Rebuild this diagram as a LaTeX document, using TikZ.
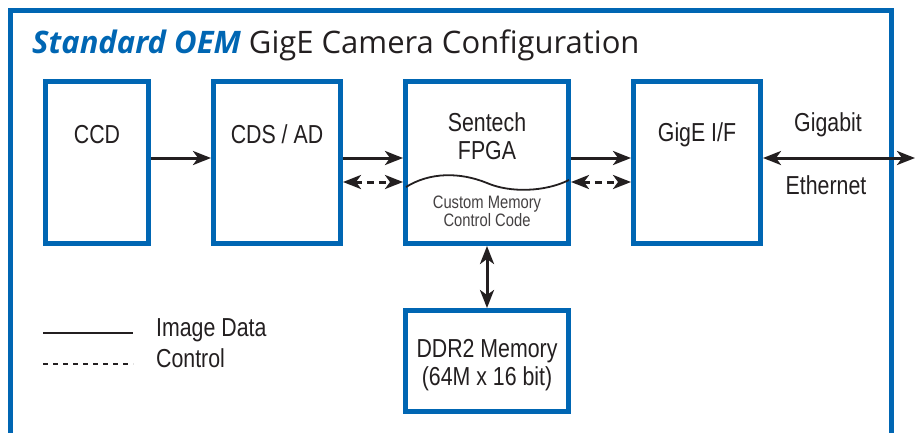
\documentclass[tikz,border=0pt]{standalone}
\usepackage{fontspec}
\setmainfont{Liberation Sans}[FakeStretch=0.82]
\newfontfamily\titlefont{Open Sans}
\usetikzlibrary{arrows.meta,positioning}

\definecolor{camblue}{RGB}{0,102,179}
\definecolor{inkgray}{RGB}{35,31,32}

\tikzset{
	block/.style={draw=camblue, line width=5pt, fill=white, inner sep=0pt},
	lbl/.style={text=inkgray, font=\fontsize{26}{28}\selectfont, align=center, inner sep=0pt},
	smalllbl/.style={text=inkgray!85, font=\fontsize{18}{18}\selectfont, align=center, inner sep=0pt},
	data/.style={line width=3pt, draw=inkgray},
	ctrl/.style={line width=3pt, draw=inkgray, dash pattern=on 7pt off 5pt},
}

\begin{document}
\begin{tikzpicture}[x=1pt, y=-1pt, >={Stealth[length=18pt,width=14pt,inset=5pt]}, node distance=60pt]
	\useasboundingbox (0,0) rectangle (915,432);
	
	% Frame and title
	\draw [camblue, line width=5pt] (10,10) rectangle (891,460);
	\node [anchor=base west, inner sep=0pt, text=inkgray, font=\titlefont\fontsize{31}{31}\selectfont] (title) at (32,53)
	{\textcolor{camblue}{\bfseries\itshape Standard OEM} GigE Camera Configuration};
	
	% Nodes {ccd, cds, fpga, gige, ddr}
	\node [block, minimum width=103pt, minimum height=162pt] 	(ccd) 	at (97,162.5) 		{};
	\node [block, minimum width=127pt, minimum height=162pt] 	(cds) 	[right=of ccd] 		{};
	\node [block, minimum width=163pt, minimum height=162pt] 	(fpga) 	[right=of cds] 		{};
	\node [block, minimum width=127pt, minimum height=162pt] 	(gige) 	[right=of fpga] 	{};
	\node [block, minimum width=163pt, minimum height=101pt] 	(ddr) 	[below=62pt of fpga] {};
	\coordinate (ethout) at (915,158);
	
	% Labels
	\node [lbl] (ccdtxt) 	at ([yshift=-55.5pt]ccd.north) 	{CCD};
	\node [lbl] (cdstxt) 	at ([yshift=-55.5pt]cds.north) 	{CDS / AD};
	\node [lbl] (fpgatxt) 	at ([yshift=-57pt]fpga.north) 	{Sentech\\FPGA};
	\node [smalllbl] (codetxt) at ([yshift=-132.5pt]fpga.north) {Custom Memory\\Control Code};
	\node [lbl] (gigetxt) 	at ([yshift=-55.5pt]gige.north) 	{GigE I/F};
	\node [lbl] (ddrtxt) 	at ([yshift=-57pt]ddr.north) 	{DDR2 Memory\\(64M x 16 bit)};
	\node [lbl] (gbtxt) 	at (828,125) 	{Gigabit};
	\node [lbl] (ethtxt) 	at (826,185) 	{Ethernet};
	
	% Memory code divider
	\draw [inkgray, line width=1.8pt] (406,187) .. controls (430,172) and (460,172) .. (487,183)
		.. controls (510,193) and (545,192) .. (569,180);
	
	% Paths
	\draw [data, ->] 	([yshift=4.5pt]ccd.east) 	-- 	([yshift=4.5pt]cds.west);
	\draw [data, ->] 	([yshift=4.5pt]cds.east) 	-- 	([yshift=4.5pt]fpga.west);
	\draw [ctrl, <->] 	([yshift=-19.5pt]cds.east) 	-- 	([yshift=-19.5pt]fpga.west);
	\draw [data, ->] 	([yshift=4.5pt]fpga.east) 	-- 	([yshift=4.5pt]gige.west);
	\draw [ctrl, <->] 	([yshift=-19.5pt]fpga.east) 	-- 	([yshift=-19.5pt]gige.west);
	\draw [data, <->] 	([yshift=4.5pt]gige.east) 	-- 	(ethout);
	\draw [data, <->] 	(fpga.south) 	-- 	(ddr.north);
	
	% Legend
	\coordinate (imgA) at (43,333);
	\coordinate (imgB) at (133,333);
	\coordinate (ctlA) at (43,364);
	\coordinate (ctlB) at (133,364);
	\draw [inkgray, line width=2pt] (imgA) -- (imgB);
	\draw [inkgray, line width=2pt, dash pattern=on 5pt off 5pt] (ctlA) -- (ctlB);
	\node [lbl, anchor=west] (imgtxt) at (156,330) {Image Data};
	\node [lbl, anchor=west] (ctltxt) at (156,358) {Control};
\end{tikzpicture}
\end{document}
